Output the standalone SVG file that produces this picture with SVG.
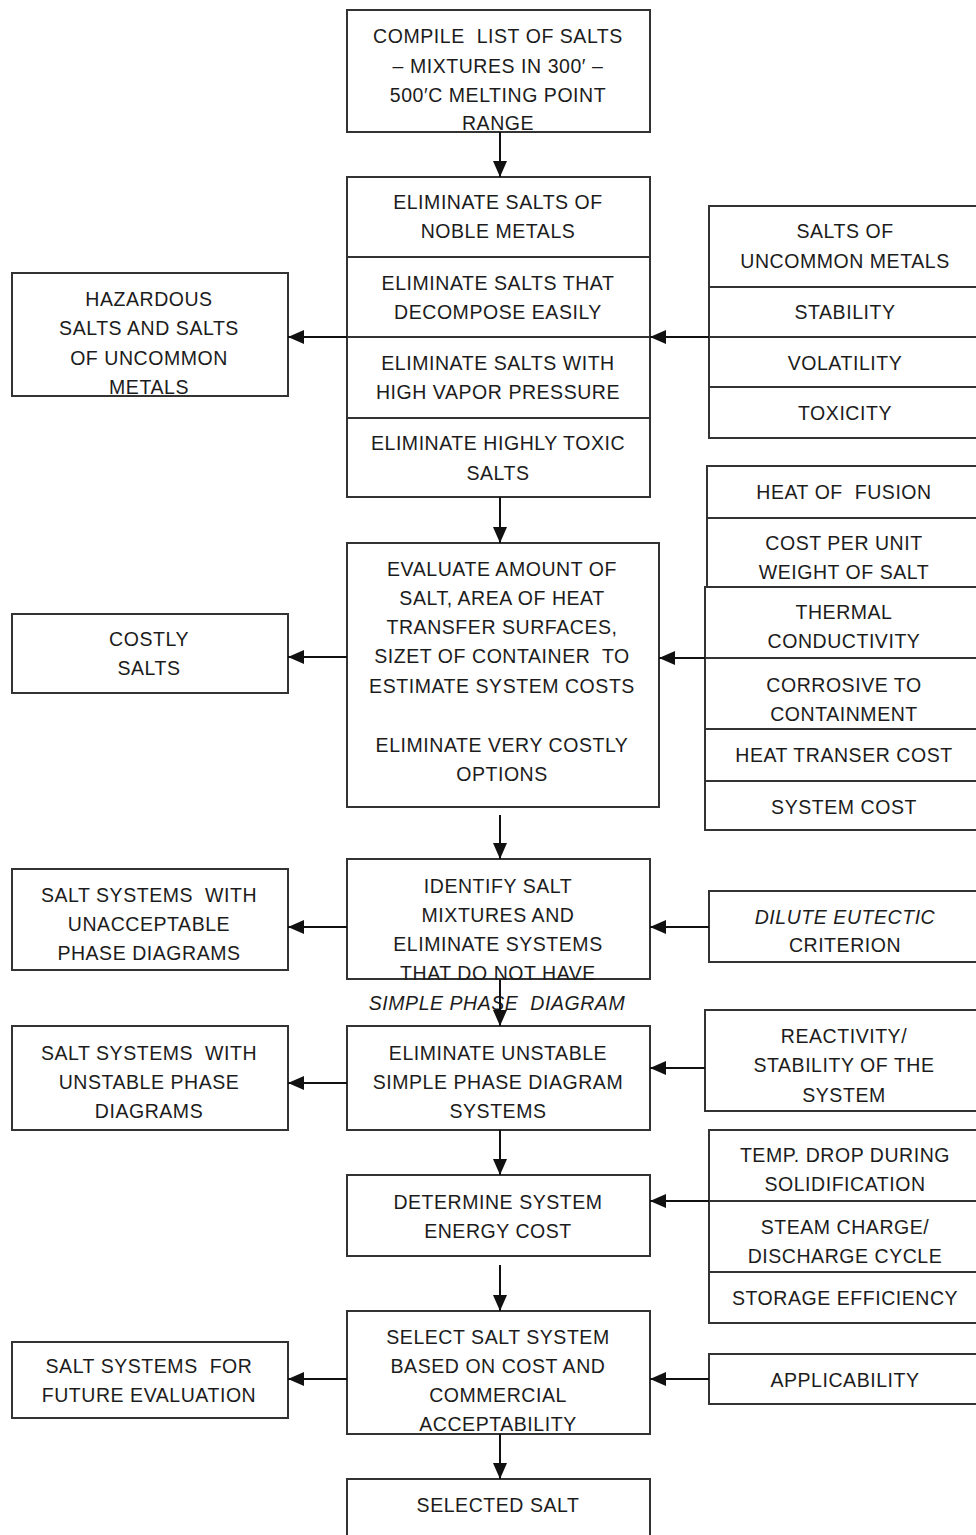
<svg xmlns="http://www.w3.org/2000/svg" width="976" height="1535" viewBox="0 0 976 1535">
<style>
rect{fill:#fff;stroke:#333;stroke-width:2}
line.d{stroke:#333;stroke-width:2}
text{font-family:"Liberation Sans",Arial,sans-serif;font-size:19.5px;fill:#1c1c1c;text-anchor:middle;letter-spacing:0.55px;white-space:pre}
text.i{font-style:italic}
.c line{stroke:#111;stroke-width:2}
</style>
<defs>
<marker id="ah" viewBox="0 0 16 16" refX="16" refY="8" markerWidth="16" markerHeight="16" markerUnits="userSpaceOnUse" orient="auto">
<path d="M0,1 L16,8 L0,15 Z" fill="#111"/>
</marker>
</defs>
<rect x="0" y="0" width="976" height="1535" style="stroke:none"/>

<g id="compile">
<rect x="347" y="10" width="303" height="122"/>
<text x="498" y="43" xml:space="preserve">COMPILE  LIST OF SALTS</text>
<text x="498" y="73">– MIXTURES IN 300′ –</text>
<text x="498" y="102">500′C MELTING POINT</text>
<text x="498" y="130">RANGE</text>
</g>

<g id="eliminate">
<rect x="347" y="177" width="303" height="320"/>
<line class="d" x1="347" y1="257" x2="650" y2="257"/>
<line class="d" x1="347" y1="337" x2="650" y2="337"/>
<line class="d" x1="347" y1="418" x2="650" y2="418"/>
<text x="498" y="209">ELIMINATE SALTS OF</text>
<text x="498" y="238">NOBLE METALS</text>
<text x="498" y="290">ELIMINATE SALTS THAT</text>
<text x="498" y="319">DECOMPOSE EASILY</text>
<text x="498" y="370">ELIMINATE SALTS WITH</text>
<text x="498" y="399">HIGH VAPOR PRESSURE</text>
<text x="498" y="450">ELIMINATE HIGHLY TOXIC</text>
<text x="498" y="480">SALTS</text>
</g>

<g id="evaluate">
<rect x="347" y="543" width="312" height="264"/>
<text x="502" y="576">EVALUATE AMOUNT OF</text>
<text x="502" y="605">SALT, AREA OF HEAT</text>
<text x="502" y="634">TRANSFER SURFACES,</text>
<text x="502" y="663">SIZET OF CONTAINER  TO</text>
<text x="502" y="693">ESTIMATE SYSTEM COSTS</text>
<text x="502" y="752">ELIMINATE VERY COSTLY</text>
<text x="502" y="781">OPTIONS</text>
</g>

<g id="identify">
<rect x="347" y="859" width="303" height="120"/>
<text x="498" y="893">IDENTIFY SALT</text>
<text x="498" y="922">MIXTURES AND</text>
<text x="498" y="951">ELIMINATE SYSTEMS</text>
<text x="498" y="980">THAT DO NOT HAVE</text>
<text class="i" x="497" y="1010" xml:space="preserve">SIMPLE PHASE  DIAGRAM</text>
</g>

<g id="unstable">
<rect x="347" y="1026" width="303" height="104"/>
<text x="498" y="1060">ELIMINATE UNSTABLE</text>
<text x="498" y="1089">SIMPLE PHASE DIAGRAM</text>
<text x="498" y="1118">SYSTEMS</text>
</g>

<g id="determine">
<rect x="347" y="1175" width="303" height="81"/>
<text x="498" y="1209">DETERMINE SYSTEM</text>
<text x="498" y="1238">ENERGY COST</text>
</g>

<g id="select">
<rect x="347" y="1311" width="303" height="123"/>
<text x="498" y="1344">SELECT SALT SYSTEM</text>
<text x="498" y="1373">BASED ON COST AND</text>
<text x="498" y="1402">COMMERCIAL</text>
<text x="498" y="1431">ACCEPTABILITY</text>
</g>

<g id="selected">
<rect x="347" y="1479" width="303" height="70"/>
<text x="498" y="1512">SELECTED SALT</text>
</g>

<g id="hazardous">
<rect x="12" y="273" width="276" height="123"/>
<text x="149" y="306">HAZARDOUS</text>
<text x="149" y="335">SALTS AND SALTS</text>
<text x="149" y="365">OF UNCOMMON</text>
<text x="149" y="394">METALS</text>
</g>

<g id="costly">
<rect x="12" y="614" width="276" height="79"/>
<text x="149" y="646">COSTLY</text>
<text x="149" y="675">SALTS</text>
</g>

<g id="unacceptable">
<rect x="12" y="869" width="276" height="101"/>
<text x="149" y="902" xml:space="preserve">SALT SYSTEMS  WITH</text>
<text x="149" y="931">UNACCEPTABLE</text>
<text x="149" y="960">PHASE DIAGRAMS</text>
</g>

<g id="unstable-out">
<rect x="12" y="1026" width="276" height="104"/>
<text x="149" y="1060" xml:space="preserve">SALT SYSTEMS  WITH</text>
<text x="149" y="1089">UNSTABLE PHASE</text>
<text x="149" y="1118">DIAGRAMS</text>
</g>

<g id="future">
<rect x="12" y="1342" width="276" height="76"/>
<text x="149" y="1373" xml:space="preserve">SALT SYSTEMS  FOR</text>
<text x="149" y="1402">FUTURE EVALUATION</text>
</g>

<g id="criteria1">
<rect x="709" y="206" width="281" height="232"/>
<line class="d" x1="709" y1="287" x2="990" y2="287"/>
<line class="d" x1="709" y1="337" x2="990" y2="337"/>
<line class="d" x1="709" y1="387" x2="990" y2="387"/>
<text x="845" y="238">SALTS OF</text>
<text x="845" y="268">UNCOMMON METALS</text>
<text x="845" y="319">STABILITY</text>
<text x="845" y="370">VOLATILITY</text>
<text x="845" y="420">TOXICITY</text>
</g>

<g id="criteria2">
<rect x="707" y="466" width="283" height="52"/>
<rect x="707" y="518" width="283" height="69"/>
<rect x="705" y="587" width="285" height="71"/>
<rect x="705" y="658" width="285" height="71"/>
<rect x="705" y="729" width="285" height="52"/>
<rect x="705" y="781" width="285" height="49"/>
<text x="844" y="499" xml:space="preserve">HEAT OF  FUSION</text>
<text x="844" y="550">COST PER UNIT</text>
<text x="844" y="579">WEIGHT OF SALT</text>
<text x="844" y="619">THERMAL</text>
<text x="844" y="648">CONDUCTIVITY</text>
<text x="844" y="692">CORROSIVE TO</text>
<text x="844" y="721">CONTAINMENT</text>
<text x="844" y="762">HEAT TRANSER COST</text>
<text x="844" y="814">SYSTEM COST</text>
</g>

<g id="dilute">
<rect x="709" y="891" width="281" height="71"/>
<text class="i" x="845" y="924">DILUTE EUTECTIC</text>
<text x="845" y="952">CRITERION</text>
</g>

<g id="reactivity">
<rect x="705" y="1010" width="285" height="101"/>
<text x="844" y="1043">REACTIVITY/</text>
<text x="844" y="1072">STABILITY OF THE</text>
<text x="844" y="1102">SYSTEM</text>
</g>

<g id="criteria3">
<rect x="709" y="1130" width="281" height="193"/>
<line class="d" x1="709" y1="1201" x2="990" y2="1201"/>
<line class="d" x1="709" y1="1272" x2="990" y2="1272"/>
<text x="845" y="1162">TEMP. DROP DURING</text>
<text x="845" y="1191">SOLIDIFICATION</text>
<text x="845" y="1234">STEAM CHARGE/</text>
<text x="845" y="1263">DISCHARGE CYCLE</text>
<text x="845" y="1305">STORAGE EFFICIENCY</text>
</g>

<g id="applicability">
<rect x="709" y="1354" width="281" height="50"/>
<text x="845" y="1387">APPLICABILITY</text>
</g>

<g id="connectors" class="c">
<line x1="500" y1="132" x2="500" y2="177" marker-end="url(#ah)"/>
<line x1="500" y1="497" x2="500" y2="543" marker-end="url(#ah)"/>
<line x1="500" y1="815" x2="500" y2="859" marker-end="url(#ah)"/>
<line x1="500" y1="979" x2="500" y2="1026" marker-end="url(#ah)"/>
<line x1="500" y1="1130" x2="500" y2="1175" marker-end="url(#ah)"/>
<line x1="500" y1="1265" x2="500" y2="1311" marker-end="url(#ah)"/>
<line x1="500" y1="1434" x2="500" y2="1479" marker-end="url(#ah)"/>
<line x1="347" y1="337" x2="288" y2="337" marker-end="url(#ah)"/>
<line x1="709" y1="337" x2="650" y2="337" marker-end="url(#ah)"/>
<line x1="347" y1="657" x2="288" y2="657" marker-end="url(#ah)"/>
<line x1="705" y1="658" x2="659" y2="658" marker-end="url(#ah)"/>
<line x1="347" y1="927" x2="288" y2="927" marker-end="url(#ah)"/>
<line x1="709" y1="927" x2="650" y2="927" marker-end="url(#ah)"/>
<line x1="347" y1="1083" x2="288" y2="1083" marker-end="url(#ah)"/>
<line x1="705" y1="1068" x2="650" y2="1068" marker-end="url(#ah)"/>
<line x1="709" y1="1201" x2="650" y2="1201" marker-end="url(#ah)"/>
<line x1="347" y1="1379" x2="288" y2="1379" marker-end="url(#ah)"/>
<line x1="709" y1="1379" x2="650" y2="1379" marker-end="url(#ah)"/>
</g>
</svg>
